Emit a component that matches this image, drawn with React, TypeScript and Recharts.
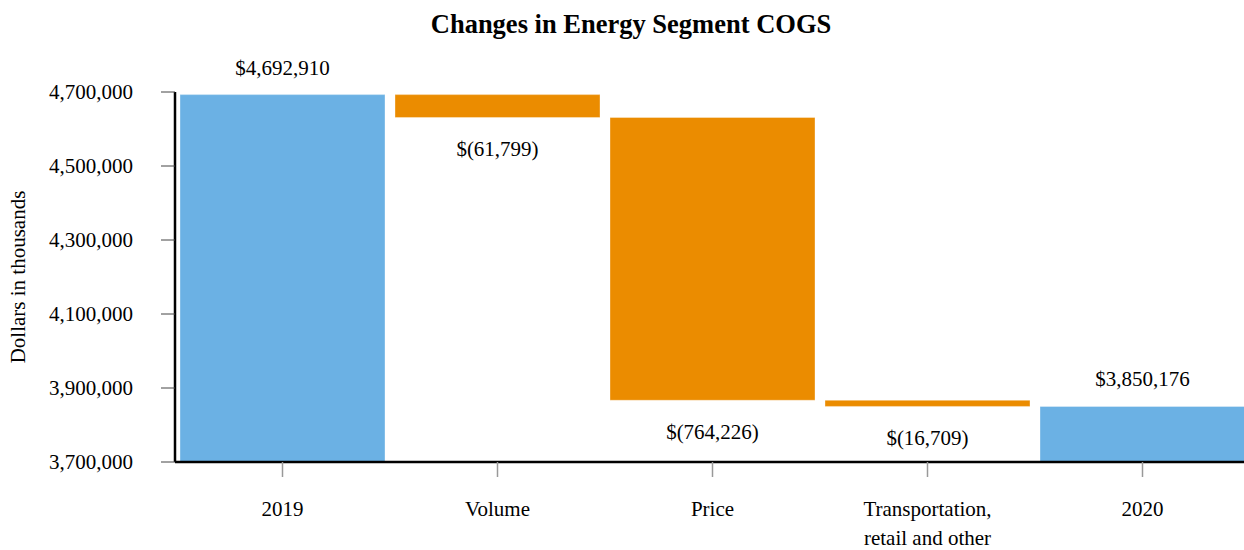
import React from 'react';
import { BarChart, Bar, XAxis, YAxis, Cell, LabelList } from 'recharts';

const categories = ['2019', 'Volume', 'Price', 'Transportation, retail and other', '2020'];
const lows = [3700000, 4631111, 3866885, 3850176, 3700000];
const highs = [4692910, 4692910, 4631111, 3866885, 3850176];
const valueLabels = ['$4,692,910', '$(61,799)', '$(764,226)', '$(16,709)', '$3,850,176'];
const isTotal = [true, false, false, false, true];
const yTicks = [3700000, 3900000, 4100000, 4300000, 4500000, 4700000];

const BLUE = '#6BB1E4';
const ORANGE = '#EB8C00';
const FONT = "'Liberation Serif', 'Times New Roman', Tinos, 'DejaVu Serif', serif";

const data = categories.map((c, i) => ({
  name: c,
  range: [lows[i], highs[i]],
  label: valueLabels[i],
  total: isTotal[i],
}));

const fmt = (v: number) => v.toLocaleString('en-US');

const XTick = (props: any) => {
  const { x, y, payload } = props;
  const text: string = payload.value;
  const lines = text.startsWith('Transportation') ? ['Transportation,', 'retail and other'] : [text];
  return (
    <g>
      {lines.map((l, i) => (
        <text key={i} x={x} y={y + 37 + i * 29} textAnchor="middle" fill="#000" style={{ fontSize: 21, fontFamily: FONT }}>
          {l}
        </text>
      ))}
    </g>
  );
};

const ValueLabel = (props: any) => {
  const { x, y, width, height, index } = props;
  const top = Math.min(y, y + height);
  const bottom = Math.max(y, y + height);
  const cx = x + width / 2;
  const d = data[index];
  const ty = d.total ? top - 20 : bottom + 39;
  return (
    <text x={cx} y={ty} textAnchor="middle" fill="#000" style={{ fontSize: 21, fontFamily: FONT }}>
      {d.label}
    </text>
  );
};

const YLabel = (props: any) => {
  const vb = props.viewBox || { x: 0, y: 92, width: 175, height: 370 };
  const cx = 25;
  const cy = vb.y + vb.height / 2;
  return (
    <text x={cx} y={cy} transform={`rotate(-90, ${cx}, ${cy})`} textAnchor="middle" fill="#000" style={{ fontSize: 21, fontFamily: FONT }}>
      Dollars in thousands
    </text>
  );
};

export default function App() {
  return (
    <div style={{ position: 'absolute', left: 0, top: 0, width: 1244, height: 550, background: '#fff', fontFamily: FONT, overflow: 'hidden' }}>
      <div
        style={{
          position: 'absolute',
          left: 0,
          top: 8,
          width: 1262,
          textAlign: 'center',
          fontFamily: FONT,
          fontWeight: 'bold',
          fontSize: 26.5,
          lineHeight: '32px',
          color: '#000',
        }}
      >
        Changes in Energy Segment COGS
      </div>
      <BarChart
        width={1250}
        height={550}
        data={data}
        margin={{ top: 92, right: 0, left: 0, bottom: 0 }}
        barCategoryGap={5}
        style={{ fontFamily: FONT }}
      >
        <XAxis
          dataKey="name"
          height={88}
          interval={0}
          tick={<XTick />}
          tickSize={15}
          tickLine={{ stroke: '#999', strokeWidth: 1.5 }}
          axisLine={{ stroke: '#000', strokeWidth: 2.5 }}
        />
        <YAxis
          width={175}
          domain={[3700000, 4700000]}
          ticks={yTicks}
          allowDataOverflow
          tickFormatter={fmt}
          tickSize={14}
          tickMargin={28}
          tick={{ fill: '#000', fontSize: 21, fontFamily: FONT, style: { fontFamily: FONT } }}
          tickLine={{ stroke: '#444', strokeWidth: 1 }}
          axisLine={{ stroke: '#000', strokeWidth: 2.5 }}
          label={<YLabel />}
        />
        <Bar dataKey="range" isAnimationActive={false} stroke="#fff" strokeOpacity={0.35} strokeWidth={1}>
          {data.map((d, i) => (
            <Cell key={i} fill={d.total ? BLUE : ORANGE} />
          ))}
          <LabelList dataKey="label" content={<ValueLabel />} />
        </Bar>
      </BarChart>
    </div>
  );
}
